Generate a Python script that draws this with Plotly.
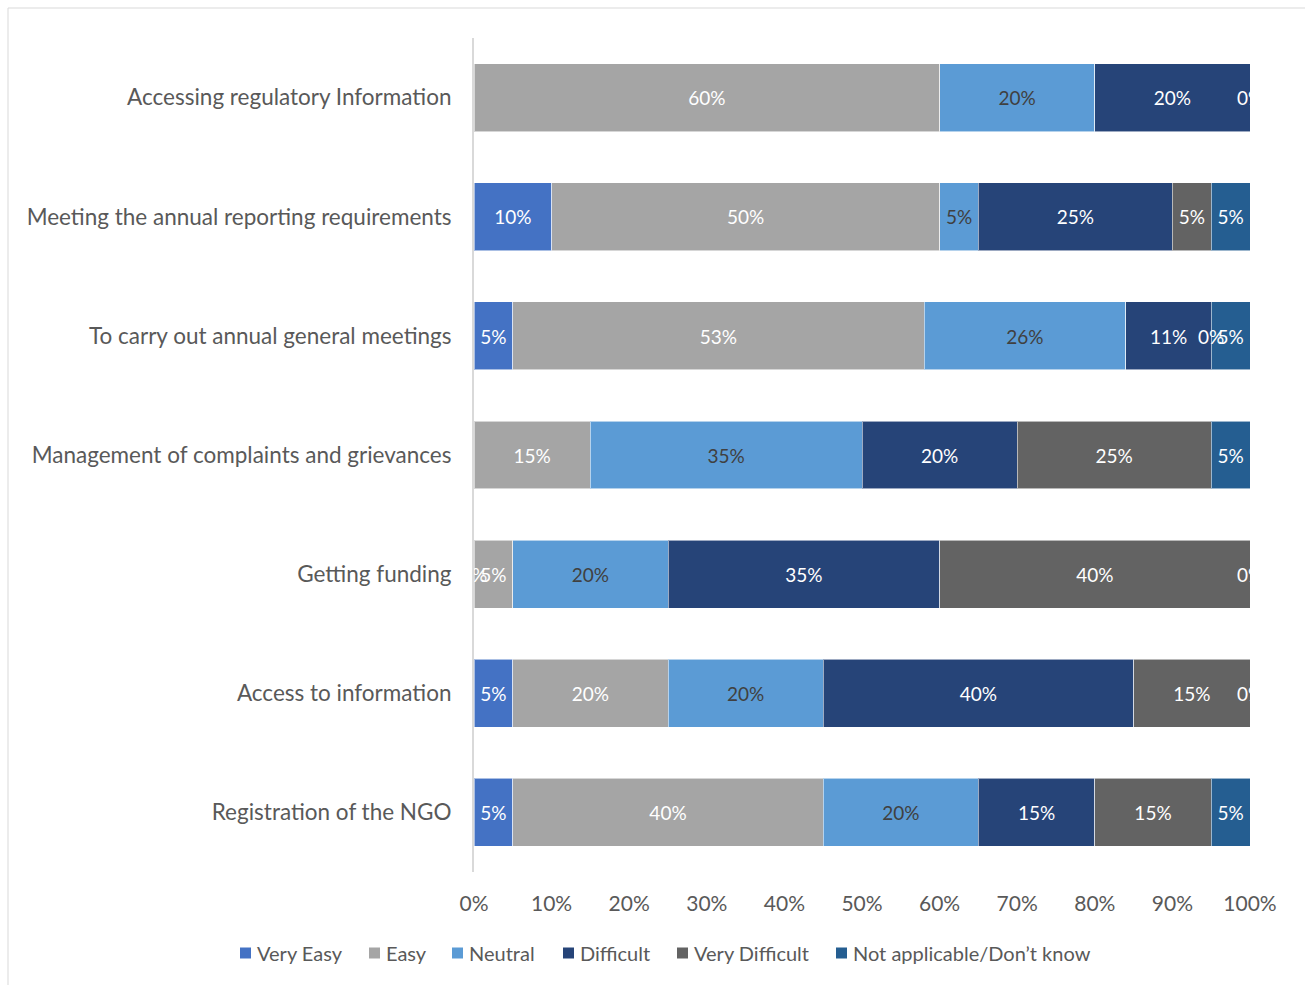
import plotly.graph_objects as go

# Survey items, listed top to bottom
categories = [
    "Accessing regulatory Information",
    "Meeting the annual reporting requirements",
    "To carry out annual general meetings",
    "Management of complaints and grievances",
    "Getting funding",
    "Access to information",
    "Registration of the NGO",
]

# Response shares in percent (None = no response recorded)
very_easy = [None, 10, 5, None, 0, 5, 5]
easy = [60, 50, 53, 15, 5, 20, 40]
neutral = [20, 5, 26, 35, 20, 20, 20]
difficult = [20, 25, 11, 20, 35, 40, 15]
very_difficult = [None, 5, 0, 25, 40, 15, 15]
not_applicable = [0, 5, 5, 5, 0, 0, 5]

series_names = ["Very Easy", "Easy", "Neutral", "Difficult", "Very Difficult",
                "Not applicable/Don\u2019t know"]
series_values = [very_easy, easy, neutral, difficult, very_difficult, not_applicable]
series_colors = ["#4472C4", "#A5A5A5", "#5B9BD5", "#264478", "#636363", "#255E91"]
label_colors = ["#FFFFFF", "#FFFFFF", "#404040", "#FFFFFF", "#FFFFFF", "#FFFFFF"]

tick_vals = [0, 10, 20, 30, 40, 50, 60, 70, 80, 90, 100]
tick_text = ["0%", "10%", "20%", "30%", "40%", "50%", "60%", "70%", "80%", "90%", "100%"]

FONT = "Lato"
TEXT_GREY = "#595959"
W, H = 1305, 985
L, R, T, B = 474, 55, 38, 113
PW, PH = W - L - R, H - T - B
N = len(categories)


def px_to_paper_x(px):
    return (px - L) / PW


def px_to_paper_y(py):
    return (H - B - py) / PH


fig = go.Figure()

for name, vals, col in zip(series_names, series_values, series_colors):
    fig.add_trace(go.Bar(
        y=categories,
        x=[v if v is not None else 0 for v in vals],
        name=name,
        orientation="h",
        marker=dict(color=col, line=dict(color="rgba(255,255,255,0.55)", width=1)),
        hoverinfo="x+y+name",
        showlegend=False,
    ))

# Data labels centred on each segment (on a hidden numeric twin of the
# category axis so the text can sit a touch below the bar centre line),
# clipped at the plot edge
label_drop = 3 / (PH / N)
offset = [0.0] * N
for vals, tcol in zip(series_values, label_colors):
    xs, ys, texts = [], [], []
    for i, v in enumerate(vals):
        if v is None:
            continue
        xs.append(offset[i] + v / 2)
        ys.append(i + label_drop)
        texts.append(f"{v}%")
        offset[i] += v
    fig.add_trace(go.Scatter(
        x=xs, y=ys, yaxis="y2", text=texts, mode="text",
        textposition="middle center",
        textfont=dict(family=FONT, size=19, color=tcol),
        showlegend=False, hoverinfo="skip", cliponaxis=True,
    ))

# Outer chart frame
fig.add_shape(type="rect", xref="paper", yref="paper",
              x0=px_to_paper_x(8), x1=px_to_paper_x(W + 5),
              y0=px_to_paper_y(H + 5), y1=px_to_paper_y(8),
              line=dict(color="#D9D9D9", width=1), fillcolor="rgba(0,0,0,0)", layer="below")

# Legend row along the bottom: colour key squares followed by series names
legend_square_x = [240, 369, 452, 563, 677, 836]
legend_y = 953
for name, col, sx in zip(series_names, series_colors, legend_square_x):
    fig.add_shape(type="rect", xref="paper", yref="paper",
                  x0=px_to_paper_x(sx), x1=px_to_paper_x(sx + 11),
                  y0=px_to_paper_y(legend_y + 5.5), y1=px_to_paper_y(legend_y - 5.5),
                  line=dict(width=0), fillcolor=col)
    fig.add_annotation(xref="paper", yref="paper",
                       x=px_to_paper_x(sx + 15), y=px_to_paper_y(legend_y),
                       xanchor="left", yanchor="middle", showarrow=False,
                       text=name, font=dict(family=FONT, size=20, color=TEXT_GREY))

fig.update_layout(
    width=W, height=H, autosize=False,
    margin=dict(l=L, r=R, t=T, b=B, pad=0, autoexpand=False),
    barmode="stack",
    bargap=0.43,
    plot_bgcolor="white",
    paper_bgcolor="white",
    font=dict(family=FONT, color=TEXT_GREY),
    showlegend=False,
    yaxis2=dict(overlaying="y", range=[N - 0.5, -0.5], visible=False,
                fixedrange=True),
)

fig.update_xaxes(
    range=[0, 100], tickvals=tick_vals, ticktext=tick_text,
    showgrid=False, zeroline=False, showline=False,
    tickfont=dict(family=FONT, size=21, color=TEXT_GREY),
    ticks="", ticklabelstandoff=17, fixedrange=True,
)
fig.update_layout(yaxis=dict(
    autorange="reversed", showgrid=False, zeroline=False,
    showline=True, linecolor="#D9D9D9", linewidth=2,
    tickfont=dict(family=FONT, size=22.5, color=TEXT_GREY),
    ticks="", ticklabelstandoff=16, fixedrange=True,
))

fig.write_html("out.html")
